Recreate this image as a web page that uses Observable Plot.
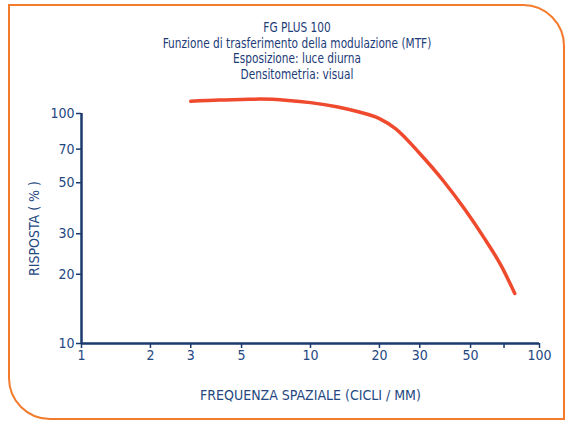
<!DOCTYPE html>
<html>
<head>
<meta charset="utf-8">
<script src="https://cdn.jsdelivr.net/npm/d3@7"></script>
<script src="https://cdn.jsdelivr.net/npm/@observablehq/plot@0.6"></script>
<style>
  html, body { margin: 0; padding: 0; background: #fff; }
  #wrap { position: relative; width: 566px; height: 421px; overflow: hidden;
          font-family: "Liberation Sans Narrow", "DejaVu Sans Condensed", "Liberation Sans", sans-serif; }
  #frame { position: absolute; left: 8px; top: 4px; width: 557px; height: 416px; box-sizing: border-box;
           border: 2.5px solid #f47a2c; border-radius: 0 42px 0 42px; pointer-events: none; }
  #title { position: absolute; left: 0; top: 20px; width: 594px; text-align: center;
           color: #1d3c78; font-size: 14.5px; line-height: 15.5px;
           transform: scaleX(0.81); transform-origin: 297px 0; }
  #chart { position: absolute; left: 0; top: 90px; }
</style>
</head>
<body>
<div id="wrap">
  <div id="title">
    <div>FG PLUS 100</div>
    <div>Funzione di trasferimento della modulazione (MTF)</div>
    <div>Esposizione: luce diurna</div>
    <div>Densitometria: visual</div>
  </div>
  <div id="chart"></div>
  <div id="frame"></div>
</div>
<script>
const frequency = [3, 4, 5, 6, 8, 10, 13, 16, 20, 23.5, 30, 38, 47, 57, 68, 78];
const response  = [113, 114.5, 115, 115.5, 114, 111.5, 107, 102, 95, 86, 67, 51, 38.5, 29, 21.8, 16.5];
const xTicks = [1, 2, 3, 5, 10, 20, 30, 50, 70, 100];
const yTicks = [10, 20, 30, 50, 70, 100];

const data = frequency.map((f, i) => ({f, r: response[i]}));
const navy = "#1a3a6e";
const labelColor = "#24487f";

const chart = Plot.plot({
  width: 566,
  height: 331,
  marginLeft: 81,
  marginRight: 27,
  marginTop: 23,
  marginBottom: 78,
  style: { fontFamily: '"Liberation Sans Narrow", "DejaVu Sans Condensed", "Liberation Sans", sans-serif', fontSize: "14px", color: labelColor, background: "transparent", overflow: "visible" },
  x: { type: "log", domain: [1, 100] },
  y: { type: "log", domain: [10, 100] },
  marks: [
    Plot.axisX({ ticks: xTicks, tickFormat: d => String(d), tickSize: 5, tickPadding: 2, stroke: navy, strokeWidth: 1.5, fill: labelColor, fontSize: 14,
                 label: "FREQUENZA SPAZIALE (CICLI / MM)", labelAnchor: "center", labelArrow: "none", labelOffset: 56 }),
    Plot.axisY({ ticks: yTicks, tickFormat: d => String(d), tickSize: 5, tickPadding: 2, stroke: navy, strokeWidth: 1.5, fill: labelColor, fontSize: 14,
                 label: "RISPOSTA ( % )", labelAnchor: "center", labelArrow: "none", labelOffset: 52 }),
    Plot.ruleX([1], { y1: 10, y2: 100, stroke: navy, strokeWidth: 2.5 }),
    Plot.ruleY([10], { x1: 1, x2: 100, stroke: navy, strokeWidth: 2.5 }),
    Plot.line(data, { x: "f", y: "r", stroke: "#f04a2e", strokeWidth: 3.5, curve: "monotone-x", strokeLinecap: "round" })
  ]
});
document.getElementById("chart").appendChild(chart);
</script>
</body>
</html>
